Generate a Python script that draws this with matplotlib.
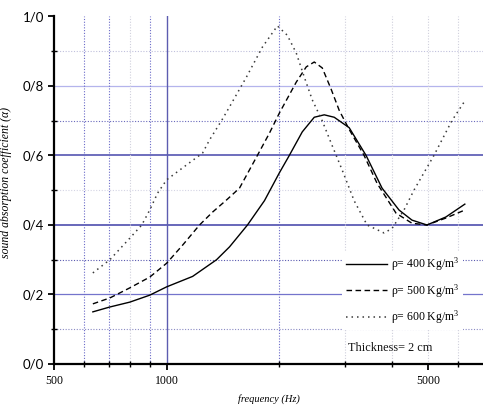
import matplotlib
matplotlib.use('Agg')
import matplotlib.pyplot as plt
from matplotlib.ticker import FixedLocator, NullFormatter

# ---- data ----
freq_400 = [635, 705, 797, 901, 1000, 1173, 1359, 1472, 1644, 1825, 2000, 2126, 2303, 2479, 2636, 2803, 3073, 3410, 3762, 4176, 4522, 4959, 5571, 6260]
alpha_400 = [0.15, 0.164, 0.178, 0.198, 0.222, 0.252, 0.30, 0.337, 0.40, 0.47, 0.55, 0.60, 0.668, 0.71, 0.717, 0.71, 0.68, 0.60, 0.506, 0.443, 0.414, 0.40, 0.423, 0.46]

freq_500 = [635, 705, 797, 901, 1000, 1103, 1224, 1326, 1445, 1565, 1747, 1881, 2000, 2219, 2360, 2479, 2604, 2752, 2890, 3073, 3369, 3648, 4100, 4522, 4959, 5571, 6260]
alpha_500 = [0.173, 0.19, 0.219, 0.25, 0.29, 0.342, 0.40, 0.437, 0.472, 0.506, 0.60, 0.664, 0.722, 0.811, 0.855, 0.869, 0.852, 0.79, 0.73, 0.675, 0.60, 0.52, 0.434, 0.405, 0.40, 0.42, 0.443]

freq_600 = [635, 705, 797, 858, 901, 946, 1000, 1083, 1247, 1302, 1401, 1472, 1634, 1802, 1976, 2100, 2219, 2331, 2449, 2603, 2752, 2944, 3168, 3431, 3808, 4000, 4305, 4577, 5175, 5780, 6260]
alpha_600 = [0.262, 0.30, 0.362, 0.40, 0.443, 0.492, 0.53, 0.558, 0.607, 0.645, 0.70, 0.74, 0.826, 0.912, 0.973, 0.946, 0.895, 0.826, 0.76, 0.70, 0.635, 0.558, 0.47, 0.40, 0.377, 0.39, 0.443, 0.50, 0.60, 0.70, 0.757]

series_labels = [r'ρ= 400 Kg/m$^{3}$', r'ρ= 500 Kg/m$^{3}$', r'ρ= 600 Kg/m$^{3}$']
xtick_values = [500, 1000, 5000]
xtick_labels = ['500', '1000', '5000']
xminor_values = [600, 700, 800, 900, 2000, 3000, 4000, 6000]
ytick_values = [0.0, 0.2, 0.4, 0.6, 0.8, 1.0]
ytick_labels = ['0/0', '0/2', '0/4', '0/6', '0/8', '1/0']
yminor_values = [0.1, 0.3, 0.5, 0.7, 0.9]
note_text = 'Thickness= 2 cm'

plt.rcParams['mathtext.fontset'] = 'custom'
plt.rcParams['mathtext.rm'] = 'Liberation Serif'
plt.rcParams['mathtext.it'] = 'Liberation Serif:italic'

fig = plt.figure(figsize=(4.83, 4.07), dpi=100)
ax = fig.add_axes([0.1118, 0.1057, 0.8882, 0.8538])
ax.set_xscale('log')
ax.set_xlim(500, 7000)
ax.set_ylim(0, 1.0)

# grid lines
dot = (0, (1, 1.5))
hstyles = {
    0.1: dict(color='#8a8ac4', ls=dot, lw=0.8),
    0.2: dict(color='#7474cc', ls='-', lw=0.9),
    0.3: dict(color='#5a5ab0', ls=dot, lw=0.8),
    0.4: dict(color='#5c5cb4', ls='-', lw=1.3),
    0.5: dict(color='#d4d4e4', ls=dot, lw=0.8),
    0.6: dict(color='#6262b8', ls='-', lw=1.3),
    0.7: dict(color='#6a6abc', ls=dot, lw=0.8),
    0.8: dict(color='#b4b4ec', ls='-', lw=0.9),
    0.9: dict(color='#c0c0dc', ls=dot, lw=0.8),
}
for yv, st in hstyles.items():
    ax.axhline(yv, zorder=0.5, **st)

vstyles = {
    600: dict(color='#6a6ac8', ls=dot, lw=0.8),
    700: dict(color='#6a6ac8', ls=dot, lw=0.8),
    800: dict(color='#d0d0dc', ls=dot, lw=0.8),
    900: dict(color='#6a6ac8', ls=dot, lw=0.8),
    1000: dict(color='#5c5cb0', ls='-', lw=1.0),
    2000: dict(color='#6a6ac8', ls=dot, lw=0.8),
    3000: dict(color='#d0d0dc', ls=dot, lw=0.8),
    4000: dict(color='#d0d0dc', ls=dot, lw=0.8),
    5000: dict(color='#d0d0dc', ls=dot, lw=0.8),
    6000: dict(color='#d0d0dc', ls=dot, lw=0.8),
}
for xv, st in vstyles.items():
    ax.axvline(xv, zorder=0.5, **st)

l1, = ax.plot(freq_400, alpha_400, color='black', lw=1.0, ls='-', label=series_labels[0])
l2, = ax.plot(freq_500, alpha_500, color='black', lw=1.0, ls=(0, (4, 2.5)), label=series_labels[1])
l3, = ax.plot(freq_600, alpha_600, color='#3a3a3a', lw=1.1, ls=(0, (1, 2.6)), label=series_labels[2])

# axes styling
for s in ['top', 'right']:
    ax.spines[s].set_visible(False)
for s in ['left', 'bottom']:
    ax.spines[s].set_linewidth(1.6)
    ax.spines[s].set_color('black')

ax.xaxis.set_major_locator(FixedLocator(xtick_values))
ax.xaxis.set_minor_locator(FixedLocator(xminor_values))
ax.set_xticklabels(xtick_labels, fontfamily='Liberation Serif', fontsize=8.5)
ax.xaxis.set_minor_formatter(NullFormatter())
ax.yaxis.set_major_locator(FixedLocator(ytick_values))
ax.yaxis.set_minor_locator(FixedLocator(yminor_values))
ax.set_yticklabels(ytick_labels, fontfamily='Lato', fontsize=9.5)
ax.tick_params(axis='both', which='major', direction='out', length=4, width=1.3, color='black')
ax.tick_params(axis='both', which='minor', direction='inout', length=4, width=1.0, color='black')
ax.tick_params(axis='x', which='major', pad=4)
ax.tick_params(axis='y', which='major', pad=3)

ax.set_xlabel('frequency (Hz)', fontfamily='Liberation Serif', fontstyle='italic', fontsize=7.5, labelpad=5)
ax.set_ylabel('sound absorption coefficient (α)', fontfamily='Liberation Serif', fontstyle='italic', fontsize=8.5)
ax.yaxis.set_label_coords(-0.098, 0.521)

leg = ax.legend(handles=[l1, l2, l3], loc='upper left', bbox_to_anchor=(0.672, 0.322),
                prop={'family': 'Liberation Serif', 'size': 8.5}, frameon=True,
                handlelength=3.5, handletextpad=0.3, labelspacing=0.75, borderpad=0.3,
                borderaxespad=0.0, fancybox=False)
leg.get_frame().set_facecolor('white')
leg.get_frame().set_edgecolor('none')
leg.get_frame().set_alpha(1.0)

ax.text(0.685, 0.045, note_text, transform=ax.transAxes, fontfamily='Liberation Serif',
        fontsize=8.8, va='center', ha='left', color='#111111')

fig.savefig('out.png', dpi=100)
